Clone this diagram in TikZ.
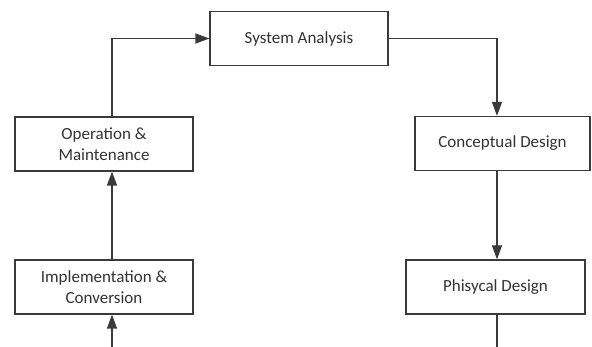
\documentclass[tikz,border=0pt]{standalone}
\usepackage{fontspec}
\setmainfont{Carlito}
\usetikzlibrary{arrows.meta}
\definecolor{txt}{HTML}{333333}
\definecolor{ln}{HTML}{3A3A3A}
\tikzset{
  stepbox/.style={draw=ln, line width=1.2pt, fill=white, minimum width=178pt, minimum height=54pt, inner sep=0pt, align=center, text=txt, font=\fontsize{17}{20.5}\selectfont},
  flow/.style={draw=ln, line width=1.2pt, -{Triangle[length=14pt,width=10pt]}},
  plain/.style={draw=ln, line width=1.2pt}
}
\begin{document}
\begin{tikzpicture}[x=1pt,y=-1pt]
\useasboundingbox (0,0) rectangle (592,347);
\node[stepbox] (sa) at (299,38.5) {System Analysis};
\node[stepbox] (om) at (104,144) {Operation \&\\Maintenance};
\node[stepbox, minimum width=175pt] (cd) at (502.5,143.5) {Conceptual Design};
\node[stepbox] (ic) at (104,287) {Implementation \&\\Conversion};
\node[stepbox, minimum width=179pt] (pd) at (495.5,287) {Phisycal Design};
\coordinate (xl) at (112,0);
\coordinate (xr) at (497,0);
\coordinate (icin) at (112,347);
\coordinate (pdout) at (497,347);
\draw[flow] (om.north -| xl) |- (sa.west);
\draw[flow] (sa.east) -| (cd.north -| xr);
\draw[flow] (cd.south -| xr) -- (pd.north -| xr);
\draw[flow] (ic.north -| xl) -- (om.south -| xl);
\draw[flow] (icin) -- (ic.south -| xl);
\draw[plain] (pd.south -| xr) -- (pdout);
\end{tikzpicture}
\end{document}
